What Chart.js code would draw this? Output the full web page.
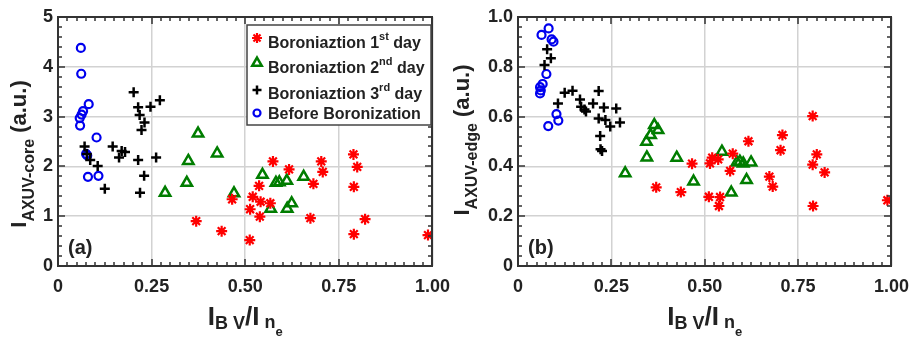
<!DOCTYPE html>
<html>
<head>
<meta charset="utf-8">
<script src="https://cdn.jsdelivr.net/npm/chart.js@4.4.0/dist/chart.umd.min.js"></script>
<style>
    html, body { margin: 0; padding: 0; background: #fff; }
    #wrap { position: relative; width: 919px; height: 338px; }
    canvas { display: block; position: absolute; top: 0; }
    #coreChart { left: 0; }
    #edgeChart { left: 440px; }
</style>
</head>
<body>
<div id="wrap">
    <canvas id="coreChart" width="460" height="338"></canvas>
    <canvas id="edgeChart" width="479" height="338"></canvas>
</div>
<script>
// tick labels
const xTickLabels = ['0', '0.25', '0.50', '0.75', '1.00'];
const coreTickLabels = ['0', '1', '2', '3', '4', '5'];
const edgeTickLabels = ['0', '0.2', '0.4', '0.6', '0.8', '1.0'];

// series names (superscript part kept separately)
const seriesNames = ['Boroniaztion 1', 'Boroniaztion 2', 'Boroniaztion 3', 'Before Boronization'];
const seriesSup = ['st', 'nd', 'rd', ''];
const seriesTail = [' day', ' day', ' day', ''];

// panel (a): I_AXUV-core
const day1CoreX = [0.369, 0.437, 0.465, 0.512, 0.513, 0.520, 0.537, 0.539, 0.541, 0.567, 0.574, 0.617, 0.674, 0.682, 0.703, 0.707, 0.789, 0.790, 0.790, 0.799, 0.820, 0.988];
const day1Core = [0.90, 0.70, 1.34, 0.52, 1.14, 1.39, 1.61, 0.99, 1.29, 1.26, 2.10, 1.94, 0.96, 1.65, 2.10, 1.89, 2.24, 1.59, 0.64, 1.99, 0.94, 0.62];
const day2CoreX = [0.286, 0.344, 0.348, 0.374, 0.425, 0.470, 0.546, 0.568, 0.582, 0.591, 0.611, 0.612, 0.624, 0.656];
const day2Core = [1.47, 1.67, 2.11, 2.66, 2.26, 1.46, 1.83, 1.15, 1.67, 1.68, 1.71, 1.15, 1.26, 1.79];
const day3CoreX = [0.071, 0.077, 0.086, 0.106, 0.125, 0.146, 0.163, 0.170, 0.179, 0.202, 0.214, 0.214, 0.218, 0.219, 0.223, 0.231, 0.230, 0.247, 0.262, 0.272];
const day3Core = [2.40, 2.25, 2.13, 2.01, 1.55, 2.40, 2.18, 2.31, 2.29, 3.49, 3.19, 2.13, 3.03, 1.47, 2.73, 2.88, 1.81, 3.20, 2.18, 3.33];
const beforeCoreX = [0.061, 0.062, 0.082, 0.067, 0.063, 0.058, 0.059, 0.103, 0.075, 0.078, 0.080, 0.108];
const beforeCore = [4.38, 3.86, 3.25, 3.11, 3.04, 2.97, 2.82, 2.58, 2.25, 2.22, 1.79, 1.81];

// panel (b): I_AXUV-edge
const day1EdgeX = [0.370, 0.436, 0.466, 0.511, 0.514, 0.520, 0.536, 0.538, 0.541, 0.568, 0.575, 0.617, 0.673, 0.682, 0.703, 0.708, 0.789, 0.789, 0.790, 0.800, 0.821, 0.989];
const day1Edge = [0.316, 0.297, 0.411, 0.278, 0.412, 0.435, 0.428, 0.241, 0.277, 0.382, 0.451, 0.501, 0.359, 0.319, 0.465, 0.526, 0.602, 0.407, 0.241, 0.448, 0.376, 0.264];
const day2EdgeX = [0.287, 0.344, 0.345, 0.355, 0.365, 0.375, 0.425, 0.470, 0.546, 0.571, 0.586, 0.594, 0.603, 0.612, 0.624];
const day2Edge = [0.372, 0.499, 0.436, 0.526, 0.566, 0.546, 0.435, 0.339, 0.459, 0.295, 0.416, 0.419, 0.412, 0.345, 0.416];
const day3EdgeX = [0.071, 0.078, 0.088, 0.107, 0.125, 0.146, 0.166, 0.169, 0.178, 0.182, 0.201, 0.216, 0.216, 0.220, 0.221, 0.225, 0.230, 0.234, 0.247, 0.263, 0.273];
const day3Edge = [0.807, 0.870, 0.834, 0.653, 0.696, 0.704, 0.669, 0.640, 0.629, 0.620, 0.653, 0.703, 0.592, 0.522, 0.469, 0.462, 0.637, 0.586, 0.560, 0.633, 0.576];
const beforeEdgeX = [0.063, 0.082, 0.090, 0.095, 0.076, 0.066, 0.059, 0.059, 0.061, 0.103, 0.108, 0.081];
const beforeEdge = [0.928, 0.954, 0.910, 0.901, 0.771, 0.731, 0.718, 0.693, 0.705, 0.610, 0.584, 0.562];

const FONT = '"Liberation Sans", Arial, sans-serif';
const RED = '#ff0000', GREEN = '#007d00', BLACK = '#000000', BLUE = '#0000ee';
const FRAME = '#333333';

const markerStyles = [
    { pointStyle: 'star', pointRadius: 5.5, borderColor: RED, backgroundColor: RED, borderWidth: 2.2 },
    { pointStyle: 'triangle', pointRadius: 6, borderColor: GREEN, backgroundColor: 'rgba(255,255,255,0)', borderWidth: 2.5 },
    { pointStyle: 'cross', pointRadius: 5, borderColor: BLACK, backgroundColor: BLACK, borderWidth: 2.5 },
    { pointStyle: 'circle', pointRadius: 4, borderColor: BLUE, backgroundColor: 'rgba(255,255,255,0)', borderWidth: 2.2 }
];

function toPoints(xs, ys) {
    return xs.map((x, i) => ({ x: x, y: ys[i] }));
}

// draw a run of text pieces with different sizes / baseline shifts, centred on (0,0)
function drawRich(ctx, parts) {
    let total = 0;
    parts.forEach(p => { ctx.font = p.font; total += ctx.measureText(p.text).width; });
    let x = -total / 2;
    parts.forEach(p => {
        ctx.font = p.font;
        ctx.fillText(p.text, x, p.dy || 0);
        x += ctx.measureText(p.text).width;
    });
}

// box round the plot with inward ticks on all four sides
function drawBox(c, a, xs, ys, yMax, yMinor) {
    const L = Math.round(a.left), R = Math.round(a.right), T = Math.round(a.top), B = Math.round(a.bottom);
    c.fillStyle = FRAME;
    for (let i = 0; i <= 40; i++) {
        const px = Math.round(xs.getPixelForValue(i * 0.025));
        const len = (i % 10 === 0) ? 7 : 4;
        c.fillRect(px - 0.75, B - len, 1.5, len);
        c.fillRect(px - 0.75, T, 1.5, len);
    }
    const n = Math.round(yMax / yMinor);
    for (let i = 0; i <= n; i++) {
        const py = Math.round(ys.getPixelForValue(i * yMinor));
        const len = (i % 5 === 0) ? 7 : 4;
        c.fillRect(L, py - 0.75, len, 1.5);
        c.fillRect(R - len, py - 0.75, len, 1.5);
    }
    c.fillRect(L - 1, T - 1, R - L + 2, 2);
    c.fillRect(L - 1, B - 1, R - L + 2, 2);
    c.fillRect(L - 1, T - 1, 2, B - T + 2);
    c.fillRect(R - 1, T - 1, 2, B - T + 2);
}

// legend with superscripts (panel a only)
function drawLegend(ctx) {
    ctx.save();
    ctx.fillStyle = '#fff';
    ctx.fillRect(247, 25, 184, 100);
    ctx.strokeStyle = '#444';
    ctx.lineWidth = 1.5;
    ctx.strokeRect(247, 25, 184, 100);
    const symY = [38, 63, 90, 113];
    const baseY = [48, 73, 99, 119];
    seriesNames.forEach((name, i) => {
        const m = markerStyles[i];
        ctx.strokeStyle = m.borderColor;
        ctx.fillStyle = m.backgroundColor;
        ctx.lineWidth = m.borderWidth;
        Chart.helpers.drawPoint(ctx, { pointStyle: m.pointStyle, radius: m.pointRadius - 0.5, rotation: 0, borderWidth: m.borderWidth }, 257, symY[i]);
        ctx.fillStyle = '#222';
        let x = 268;
        ctx.font = 'bold 16px ' + FONT;
        ctx.fillText(name, x, baseY[i]);
        x += ctx.measureText(name).width;
        if (seriesSup[i]) {
            ctx.font = 'bold 11px ' + FONT;
            ctx.fillText(seriesSup[i], x, baseY[i] - 8);
            x += ctx.measureText(seriesSup[i]).width;
            ctx.font = 'bold 16px ' + FONT;
            ctx.fillText(seriesTail[i], x, baseY[i]);
        }
    });
    ctx.restore();
}

function makeChart(id, series, yMax, yStep, yLabels, extra) {
    const ctx = document.getElementById(id).getContext('2d');

    // frame, axis titles, panel letter and legend
    const decorPlugin = {
        id: 'decor',
        afterDraw(chart) {
            const c = chart.ctx, a = chart.chartArea;
            c.save();
            drawBox(c, a, chart.scales.x, chart.scales.y, yMax, yStep / 5);
            c.fillStyle = '#222';
            c.textBaseline = 'alphabetic';
            c.textAlign = 'left';
            // x title
            c.save();
            c.translate((a.left + a.right) / 2, 325);
            drawRich(c, [
                { text: 'I', font: 'bold 26px ' + FONT },
                { text: 'B V', font: 'bold 18px ' + FONT, dy: 4 },
                { text: '/I', font: 'bold 26px ' + FONT },
                { text: ' n', font: 'bold 18px ' + FONT, dy: 3 },
                { text: 'e', font: 'bold 13px ' + FONT, dy: 11 }
            ]);
            c.restore();
            // y title
            c.save();
            c.translate(extra.yTitleX, extra.yTitleCenter);
            c.rotate(-Math.PI / 2);
            drawRich(c, [
                { text: 'I', font: 'bold 22px ' + FONT },
                { text: extra.ySub, font: 'bold 16px ' + FONT, dy: 8 },
                { text: ' (a.u.)', font: 'bold 22px ' + FONT }
            ]);
            c.restore();
            // panel letter
            c.font = 'bold 20px ' + FONT;
            c.fillText(extra.letter, a.left + 10, 254);
            c.restore();
            if (extra.legend) drawLegend(c);
        }
    };

    return new Chart(ctx, {
        type: 'scatter',
        data: {
            datasets: series.map((pts, i) => Object.assign({ label: seriesNames[i], data: pts }, markerStyles[i]))
        },
        options: {
            responsive: false,
            animation: false,
            layout: { padding: { top: 17, right: extra.padRight, left: extra.padLeft, bottom: 0 } },
            plugins: {
                legend: { display: false },
                tooltip: { enabled: false }
            },
            scales: {
                x: {
                    type: 'linear', min: 0, max: 1,
                    afterFit: s => { s.height = 72; },
                    border: { display: false },
                    grid: { color: '#d2d2d2', lineWidth: 1.5, drawTicks: false },
                    ticks: {
                        stepSize: 0.25, padding: 10, color: '#222',
                        font: { family: FONT, size: 18, weight: 'bold' },
                        callback: (v, i) => xTickLabels[i]
                    }
                },
                y: {
                    type: 'linear', min: 0, max: yMax,
                    afterFit: s => { s.width = 58; },
                    border: { display: false },
                    grid: { color: '#d2d2d2', lineWidth: 1.5, drawTicks: false },
                    ticks: {
                        stepSize: yStep, padding: 5, color: '#222',
                        font: { family: FONT, size: 18, weight: 'bold' },
                        callback: (v, i) => yLabels[i]
                    }
                }
            }
        },
        plugins: [decorPlugin]
    });
}

makeChart('coreChart', [
    toPoints(day1CoreX, day1Core),
    toPoints(day2CoreX, day2Core),
    toPoints(day3CoreX, day3Core),
    toPoints(beforeCoreX, beforeCore)
], 5, 1, coreTickLabels, { padLeft: 0, padRight: 22, ySub: 'AXUV-core', yTitleX: 26, yTitleCenter: 154, letter: '(a)', legend: true });

makeChart('edgeChart', [
    toPoints(day1EdgeX, day1Edge),
    toPoints(day2EdgeX, day2Edge),
    toPoints(day3EdgeX, day3Edge),
    toPoints(beforeEdgeX, beforeEdge)
], 1, 0.2, edgeTickLabels, { padLeft: 20, padRight: 21, ySub: 'AXUV-edge', yTitleX: 29, yTitleCenter: 140, letter: '(b)', legend: false });
</script>
</body>
</html>
